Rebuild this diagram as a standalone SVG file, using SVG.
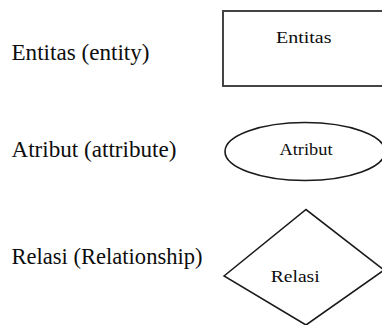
<svg xmlns="http://www.w3.org/2000/svg" width="382" height="325" viewBox="0 0 382 325">
<style>
.lbl{font-family:"Liberation Serif","Times New Roman",serif;font-size:23px;fill:#0d0d0d}
.in{font-family:"Liberation Serif","Times New Roman",serif;font-size:17.5px;fill:#0d0d0d}
.shape{fill:#fff;stroke:#1a1a1a;stroke-width:1.6}
.rectshape{fill:#fff;stroke:#444;stroke-width:2}
</style>
<rect width="382" height="325" fill="#fff"/>
<g id="label-entity"><text class="lbl" x="11.5" y="59.5" textLength="138" lengthAdjust="spacingAndGlyphs">Entitas (entity)</text></g>
<g id="label-attribute"><text class="lbl" x="11.5" y="156.5" textLength="165" lengthAdjust="spacingAndGlyphs">Atribut (attribute)</text></g>
<g id="label-relationship"><text class="lbl" x="11.5" y="263.5" textLength="191" lengthAdjust="spacingAndGlyphs">Relasi (Relationship)</text></g>
<g id="node-entitas">
<rect class="rectshape" x="223" y="11" width="170" height="75"/>
<text class="in" x="276" y="42.5" textLength="55.5" lengthAdjust="spacingAndGlyphs">Entitas</text>
</g>
<g id="node-atribut">
<ellipse class="shape" cx="305" cy="151.5" rx="80" ry="29"/>
<text class="in" x="279.5" y="154.5" textLength="53" lengthAdjust="spacingAndGlyphs">Atribut</text>
</g>
<g id="node-relasi">
<polygon class="shape" points="224,276 306,209.5 384,270 306,325"/>
<text class="in" x="270.7" y="282.3" textLength="49" lengthAdjust="spacingAndGlyphs">Relasi</text>
</g>
<g id="connectors"/>
</svg>
